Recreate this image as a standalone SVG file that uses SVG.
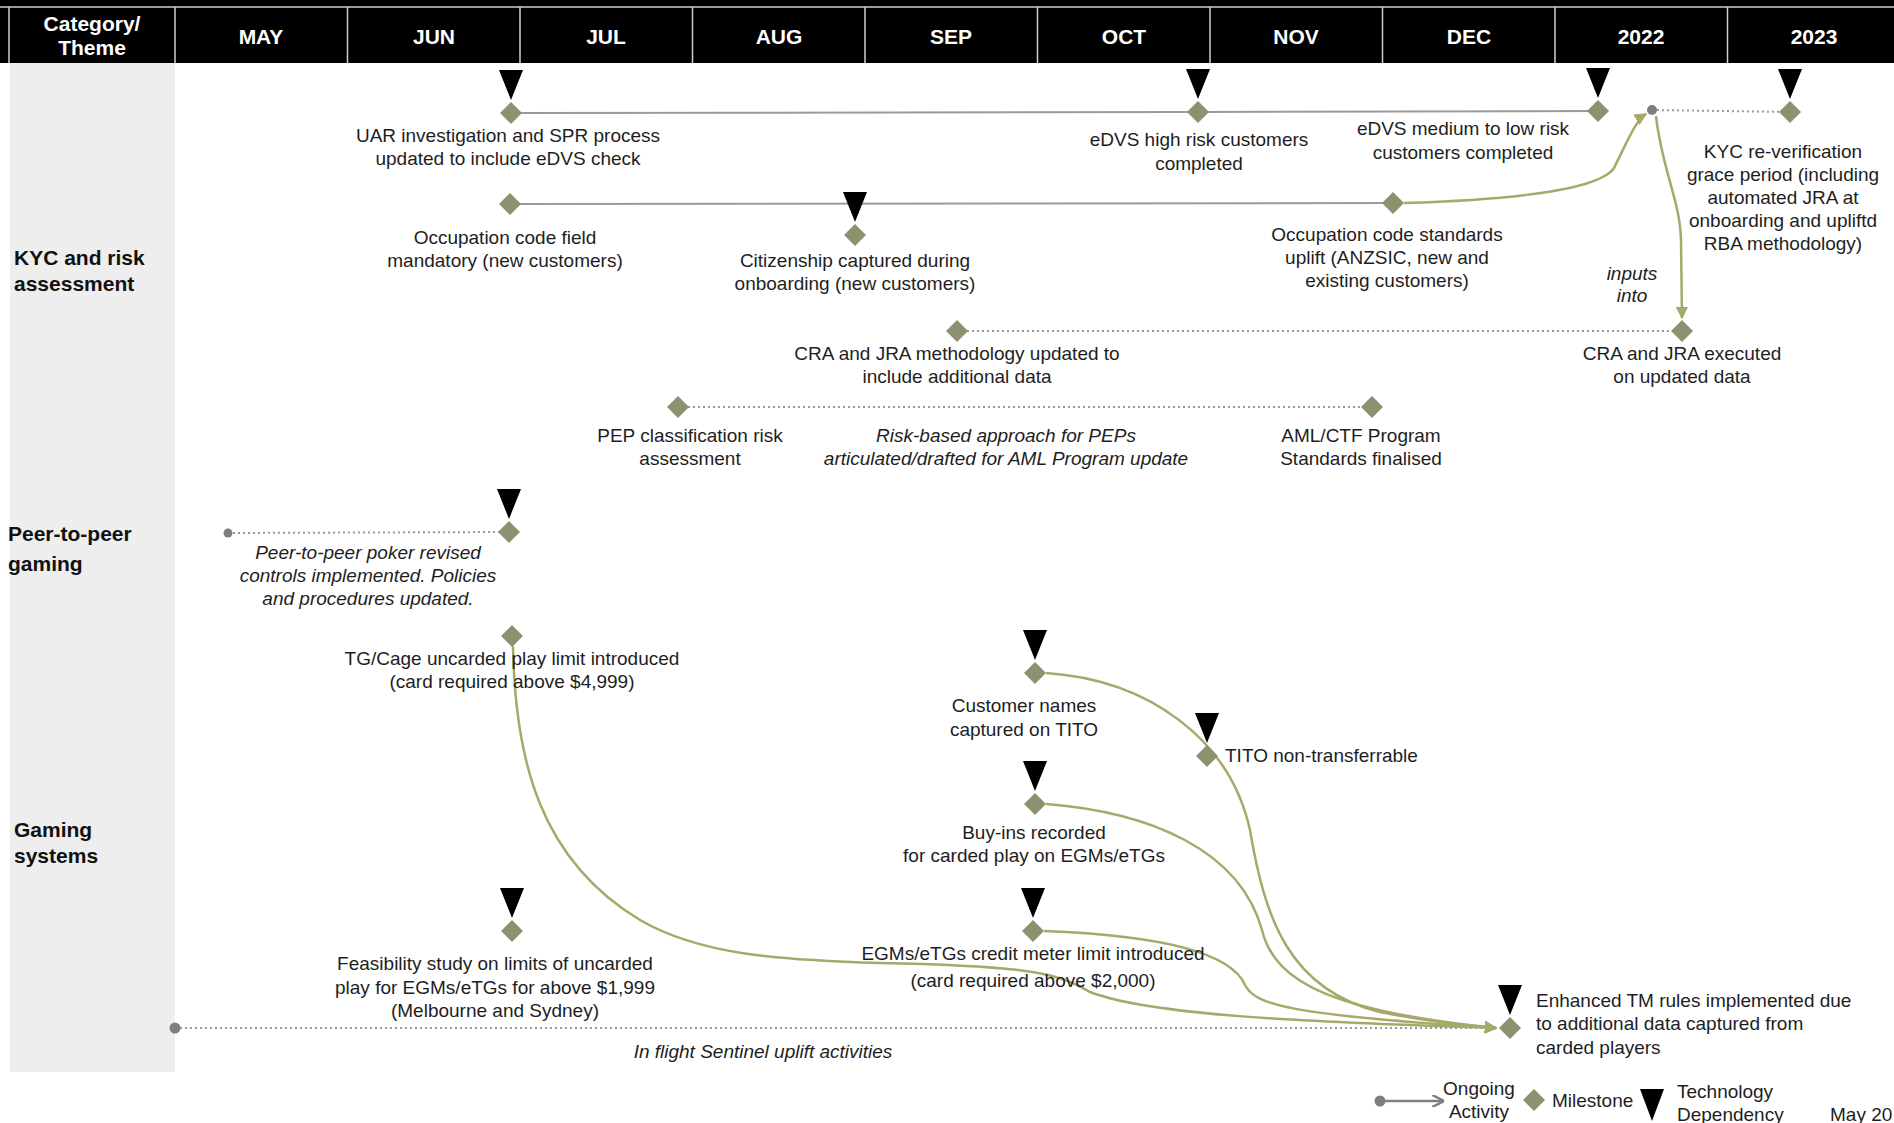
<svg xmlns="http://www.w3.org/2000/svg" xmlns:xlink="http://www.w3.org/1999/xlink" width="1894" height="1123" viewBox="0 0 1894 1123">
<style>
text{font-family:"Liberation Sans",Arial,sans-serif;fill:#1e1e1e;font-size:19px}
.hd{fill:#fff;font-weight:bold;font-size:21px;text-anchor:middle}
.cat{font-weight:bold;font-size:21px;fill:#111}
.c{text-anchor:middle}
.i{font-style:italic}
.dia{fill:#8d9170}
.tri{fill:#000}
.dot{fill:#7f7f7f}
.solid{stroke:#9a9a9a;stroke-width:2;fill:none}
.dotted{stroke:#999;stroke-width:2;stroke-dasharray:2 3;fill:none}
.curve{stroke:#a6a96a;stroke-width:2.5;fill:none}
.sep{stroke:#cfcfcf;stroke-width:1.5}
</style>
<defs>
<path id="d" d="M0,-11 L11,0 L0,11 L-11,0 Z"/>
<path id="t" d="M-12,-43 L12,-43 L0,-13 Z"/>
<marker id="ah" viewBox="0 0 10 10" refX="9" refY="5" markerWidth="5" markerHeight="5" orient="auto" markerUnits="strokeWidth">
<path d="M0,0 L10,5 L0,10 Z" fill="#a6a96a"/>
</marker>
<marker id="lg" viewBox="0 0 10 10" refX="9" refY="5" markerWidth="5" markerHeight="5" orient="auto" markerUnits="strokeWidth">
<path d="M0,0 L10,5 L0,10" fill="none" stroke="#808080" stroke-width="2"/>
</marker>
</defs>
<rect width="1894" height="1123" fill="#fff"/>
<!-- left band -->
<rect x="10" y="63" width="165" height="1009" fill="#eeeeee"/>
<!-- header -->
<g id="header">
<rect x="0" y="0" width="1894" height="63" fill="#000"/>
<line x1="0" y1="7" x2="1894" y2="7" class="sep"/>
<line x1="9" y1="7" x2="9" y2="63" class="sep"/>
<line x1="175" y1="7" x2="175" y2="63" class="sep"/>
<line x1="347.5" y1="7" x2="347.5" y2="63" class="sep"/>
<line x1="520" y1="7" x2="520" y2="63" class="sep"/>
<line x1="692.5" y1="7" x2="692.5" y2="63" class="sep"/>
<line x1="865" y1="7" x2="865" y2="63" class="sep"/>
<line x1="1037.5" y1="7" x2="1037.5" y2="63" class="sep"/>
<line x1="1210" y1="7" x2="1210" y2="63" class="sep"/>
<line x1="1382.5" y1="7" x2="1382.5" y2="63" class="sep"/>
<line x1="1555" y1="7" x2="1555" y2="63" class="sep"/>
<line x1="1727.5" y1="7" x2="1727.5" y2="63" class="sep"/>
<text class="hd" x="92" y="31">Category/</text>
<text class="hd" x="92" y="55">Theme</text>
<text class="hd" x="261" y="44">MAY</text>
<text class="hd" x="434" y="44">JUN</text>
<text class="hd" x="606" y="44">JUL</text>
<text class="hd" x="779" y="44">AUG</text>
<text class="hd" x="951" y="44">SEP</text>
<text class="hd" x="1124" y="44">OCT</text>
<text class="hd" x="1296" y="44">NOV</text>
<text class="hd" x="1469" y="44">DEC</text>
<text class="hd" x="1641" y="44">2022</text>
<text class="hd" x="1814" y="44">2023</text>
</g>
<!-- categories -->
<g id="cat-kyc"><text class="cat" x="14" y="265">KYC and risk</text><text class="cat" x="14" y="291">assessment</text></g>
<g id="cat-p2p"><text class="cat" x="8" y="541">Peer-to-peer</text><text class="cat" x="8" y="571">gaming</text></g>
<g id="cat-gaming"><text class="cat" x="14" y="837">Gaming</text><text class="cat" x="14" y="863">systems</text></g>

<!-- connectors -->
<g id="connectors">
<polyline class="solid" points="511,113 1198,112 1598,111"/>
<line class="solid" x1="510" y1="204" x2="1393" y2="203"/>
<line class="dotted" x1="1652" y1="110" x2="1790" y2="112"/>
<line class="dotted" x1="957" y1="331" x2="1681" y2="331"/>
<line class="dotted" x1="678" y1="407" x2="1372" y2="407"/>
<line class="dotted" x1="228" y1="533" x2="509" y2="532"/>
<line class="dotted" x1="175" y1="1028" x2="1498" y2="1028"/>
<path class="curve" marker-end="url(#ah)" d="M1404,203 C1500,200 1598,192 1614,168 C1628,140 1636,120 1646,114"/>
<path class="curve" marker-end="url(#ah)" d="M1656,116 C1662,170 1680,200 1681,240 L1682,318"/>
<path class="curve" marker-end="url(#ah)" d="M513,646 C515,760 540,860 640,920 C700,955 780,960 880,963 C1040,966 1060,975 1090,992 C1150,1015 1300,1022 1496,1028"/>
<path class="curve" marker-end="url(#ah)" d="M1046,673 C1150,680 1230,740 1250,830 C1265,920 1290,990 1380,1012 C1430,1022 1470,1026 1496,1028"/>
<path class="curve" marker-end="url(#ah)" d="M1046,804 C1150,812 1240,850 1262,930 C1275,985 1340,1012 1496,1028"/>
<path class="curve" marker-end="url(#ah)" d="M1044,931 C1150,935 1230,950 1245,985 C1255,1005 1290,1015 1496,1028"/>
<circle class="dot" cx="1652" cy="110" r="5"/>
<circle class="dot" cx="228" cy="533" r="4.5"/>
<circle class="dot" cx="175" cy="1028" r="5.5"/>
</g>

<!-- KYC nodes -->
<g id="n-uar"><use href="#t" x="511" y="113" class="tri"/><use href="#d" x="511" y="113" class="dia"/>
<text class="c" x="508" y="142">UAR investigation and SPR process</text><text class="c" x="508" y="165">updated to include eDVS check</text></g>
<g id="n-edvs-high"><use href="#t" x="1198" y="112" class="tri"/><use href="#d" x="1198" y="112" class="dia"/>
<text class="c" x="1199" y="146">eDVS high risk customers</text><text class="c" x="1199" y="170">completed</text></g>
<g id="n-edvs-med"><use href="#t" x="1598" y="111" class="tri"/><use href="#d" x="1598" y="111" class="dia"/>
<text class="c" x="1463" y="135">eDVS medium to low risk</text><text class="c" x="1463" y="159">customers completed</text></g>
<g id="n-kyc-reverif"><use href="#t" x="1790" y="112" class="tri"/><use href="#d" x="1790" y="112" class="dia"/>
<text class="c" x="1783" y="158">KYC re-verification</text><text class="c" x="1783" y="181">grace period (including</text><text class="c" x="1783" y="204">automated JRA at</text><text class="c" x="1783" y="227">onboarding and upliftd</text><text class="c" x="1783" y="250">RBA methodology)</text></g>
<g id="n-occ-field"><use href="#d" x="510" y="204" class="dia"/>
<text class="c" x="505" y="244">Occupation code field</text><text class="c" x="505" y="267">mandatory (new customers)</text></g>
<g id="n-citizen"><use href="#t" x="855" y="235" class="tri"/><use href="#d" x="855" y="235" class="dia"/>
<text class="c" x="855" y="267">Citizenship captured during</text><text class="c" x="855" y="290">onboarding (new customers)</text></g>
<g id="n-occ-std"><use href="#d" x="1393" y="203" class="dia"/>
<text class="c" x="1387" y="241">Occupation code standards</text><text class="c" x="1387" y="264">uplift (ANZSIC, new and</text><text class="c" x="1387" y="287">existing customers)</text></g>
<g id="lbl-inputs"><text class="c i" x="1632" y="280">inputs</text><text class="c i" x="1632" y="302">into</text></g>
<g id="n-cra-method"><use href="#d" x="957" y="331" class="dia"/>
<text class="c" x="957" y="360">CRA and JRA methodology updated to</text><text class="c" x="957" y="383">include additional data</text></g>
<g id="n-cra-exec"><use href="#d" x="1682" y="331" class="dia"/>
<text class="c" x="1682" y="360">CRA and JRA executed</text><text class="c" x="1682" y="383">on updated data</text></g>
<g id="n-pep"><use href="#d" x="678" y="407" class="dia"/>
<text class="c" x="690" y="442">PEP classification risk</text><text class="c" x="690" y="465">assessment</text></g>
<g id="lbl-rba"><text class="c i" x="1006" y="442">Risk-based approach for PEPs</text><text class="c i" x="1006" y="465">articulated/drafted for AML Program update</text></g>
<g id="n-amlctf"><use href="#d" x="1372" y="407" class="dia"/>
<text class="c" x="1361" y="442">AML/CTF Program</text><text class="c" x="1361" y="465">Standards finalised</text></g>

<!-- P2P -->
<g id="n-p2p"><use href="#t" x="509" y="532" class="tri"/><use href="#d" x="509" y="532" class="dia"/>
<text class="c i" x="368" y="559">Peer-to-peer poker revised</text><text class="c i" x="368" y="582">controls implemented. Policies</text><text class="c i" x="368" y="605">and procedures updated.</text></g>

<!-- Gaming -->
<g id="n-tgcage"><use href="#d" x="512" y="636" class="dia"/>
<text class="c" x="512" y="665">TG/Cage uncarded play limit introduced</text><text class="c" x="512" y="688">(card required above $4,999)</text></g>
<g id="n-custnames"><use href="#t" x="1035" y="673" class="tri"/><use href="#d" x="1035" y="673" class="dia"/>
<text class="c" x="1024" y="712">Customer names</text><text class="c" x="1024" y="736">captured on TITO</text></g>
<g id="n-tito"><use href="#t" x="1207" y="756" class="tri"/><use href="#d" x="1207" y="756" class="dia"/>
<text x="1225" y="762">TITO non-transferrable</text></g>
<g id="n-buyins"><use href="#t" x="1035" y="804" class="tri"/><use href="#d" x="1035" y="804" class="dia"/>
<text class="c" x="1034" y="839">Buy-ins recorded</text><text class="c" x="1034" y="862">for carded play on EGMs/eTGs</text></g>
<g id="n-credit"><use href="#t" x="1033" y="931" class="tri"/><use href="#d" x="1033" y="931" class="dia"/>
<text class="c" x="1033" y="960">EGMs/eTGs credit meter limit introduced</text><text class="c" x="1033" y="987">(card required above $2,000)</text></g>
<g id="n-feas"><use href="#t" x="512" y="931" class="tri"/><use href="#d" x="512" y="931" class="dia"/>
<text class="c" x="495" y="970">Feasibility study on limits of uncarded</text><text class="c" x="495" y="994">play for EGMs/eTGs for above $1,999</text><text class="c" x="495" y="1017">(Melbourne and Sydney)</text></g>
<g id="lbl-sentinel"><text class="c i" x="763" y="1058">In flight Sentinel uplift activities</text></g>
<g id="n-tm"><use href="#t" x="1510" y="1028" class="tri"/><use href="#d" x="1510" y="1028" class="dia"/>
<text x="1536" y="1007">Enhanced TM rules implemented due</text><text x="1536" y="1030">to additional data captured from</text><text x="1536" y="1054">carded players</text></g>

<!-- legend -->
<g id="legend">
<circle class="dot" cx="1380" cy="1101" r="5.5"/>
<line x1="1380" y1="1101" x2="1443" y2="1101" stroke="#808080" stroke-width="2.5" marker-end="url(#lg)"/>
<text class="c" x="1479" y="1095">Ongoing</text><text class="c" x="1479" y="1118">Activity</text>
<use href="#d" x="1534" y="1100" class="dia"/>
<text x="1552" y="1107">Milestone</text>
<path d="M1640,1089 L1664,1089 L1652,1121 Z" class="tri"/>
<text x="1677" y="1098">Technology</text><text x="1677" y="1121">Dependency</text>
<text x="1830" y="1121">May 20</text>
</g>
</svg>
